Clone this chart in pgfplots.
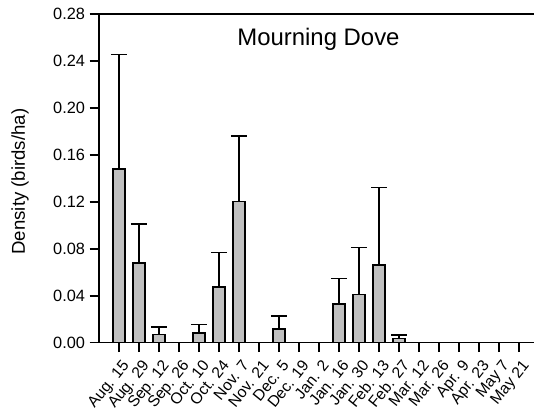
\documentclass[border=0pt]{standalone}
\usepackage{pgfplots}
\pgfplotsset{compat=1.18}
\usepackage{fontspec}
\setmainfont{Liberation Sans}
\definecolor{barfill}{RGB}{192,192,192}
\begin{document}
\begin{tikzpicture}
\begin{axis}[
  name=ax,
  scale only axis,
  width=326.25bp, height=246.5bp,
  xmin=-1, xmax=20.75,
  ymin=0, ymax=0.28,
  axis x line*=box, axis y line*=left,
  xtick pos=left,
  axis line style={line width=1.2bp, black},
  tick style={line width=1.2bp, black},
  tick align=outside,
  major tick length=7bp,
  ytick={0,0.04,0.08,0.12,0.16,0.20,0.24,0.28},
  yticklabel style={/pgf/number format/fixed, /pgf/number format/fixed zerofill, /pgf/number format/precision=2, /pgf/number format/assume math mode=true, font=\fontsize{12.3}{14}\selectfont},
  xtick={0,...,20},
  xticklabels={Aug. 15,Aug. 29,Sep. 12,Sep. 26,Oct. 10,Oct. 24,Nov. 7,Nov. 21,Dec. 5,Dec. 19,Jan. 2,Jan. 16,Jan. 30,Feb. 13,Feb. 27,Mar. 12,Mar. 26,Apr. 9,Apr. 23,May 7,May 21},
  xticklabel style={xshift=1.5bp, yshift=-3.5bp, rotate=51, anchor=north east, font=\fontsize{11.8}{14}\selectfont, inner sep=1bp},
  ylabel={Density (birds/ha)},
  ylabel style={at={(axis description cs:-0.1816,0.49)}, anchor=center, font=\fontsize{14}{16}\selectfont},
  ybar, bar width=9bp,
]
\addplot[fill=barfill, draw=black, line width=1.2bp,
  error bars/.cd, y dir=plus, y explicit,
  error bar style={line width=1bp, black},
  error mark options={rotate=90, line width=1bp, mark size=6bp, black}]
  table[x=x, y=y, y error=e] {
x y e
0 0.1477 0.0979
1 0.0681 0.0330
2 0.0068 0.0066
4 0.0080 0.0077
5 0.0474 0.0293
6 0.1204 0.0556
8 0.0117 0.0110
11 0.0327 0.0218
12 0.0409 0.0403
13 0.0662 0.0660
14 0.0037 0.0029
};
\node[font=\fontsize{18}{21}\selectfont] at (rel axis cs:0.5046,0.924) {Mourning Dove};
\end{axis}
\pgfresetboundingbox
\path ([shift={(-74.25bp,-55.7bp)}]ax.south west) rectangle ([shift={(0bp,10.5bp)}]ax.north east);
\end{tikzpicture}
\end{document}
